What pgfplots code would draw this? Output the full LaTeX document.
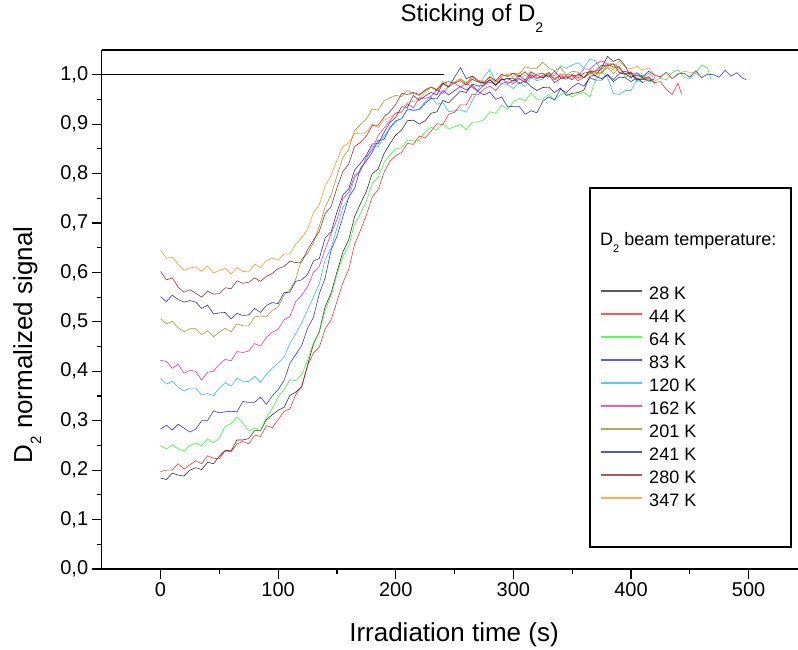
\documentclass[border=0pt]{standalone}
\usepackage{fontspec}
\setmainfont{Liberation Sans}
\usepackage{pgfplots}
\pgfplotsset{compat=1.18}
\definecolor{olivec}{RGB}{128,128,0}
\definecolor{navyc}{RGB}{0,0,128}
\definecolor{winec}{RGB}{128,0,0}
\definecolor{orangec}{RGB}{255,128,0}
\definecolor{greenc}{RGB}{0,255,0}
\begin{document}
\begin{tikzpicture}[x=1pt,y=1pt]
\useasboundingbox (0,0) rectangle (798,650);
\begin{axis}[
  at={(101.7pt,81pt)}, anchor=south west,
  scale only axis, width=696.3pt, height=519pt,
  xmin=-50, xmax=542, ymin=0, ymax=1.05,
  axis x line=box, axis y line=left,
  axis line style={-, line width=1.6pt, black},
  xtick={0,100,200,300,400,500}, minor x tick num=1,
  ytick={0,0.1,0.2,0.3,0.4,0.5,0.6,0.7,0.8,0.9,1.0}, minor y tick num=1,
  xtick pos=bottom, ytick pos=left,
  tick align=outside,
  major tick length=10pt, minor tick length=5pt,
  tick style={line width=1.2pt, black},
  /pgf/number format/assume math mode=true,
  tick label style={font=\fontsize{20}{24}\selectfont},
  yticklabel style={/pgf/number format/.cd, fixed, fixed zerofill, precision=1, use comma},
  xlabel={Irradiation time (s)},
  xlabel style={font=\fontsize{26}{30}\selectfont, at={(axis description cs:0.506,-0.140)}, anchor=base},
  ylabel={D\raisebox{-9pt}{\fontsize{15}{15}\selectfont 2} normalized signal},
  ylabel style={font=\fontsize{26}{30}\selectfont, at={(axis description cs:-0.1001,0.4316)}, anchor=base},
  title={Sticking of D\raisebox{-11pt}{\fontsize{14}{14}\selectfont 2}},
  title style={font=\fontsize{24}{28}\selectfont, at={(axis description cs:0.5318,1.0443)}, anchor=base},
  legend style={at={(axis description cs:0.7157,0.5445)}, anchor=north west, draw=none, fill=none,
    font=\fontsize{18}{18}\selectfont, inner sep=0pt, row sep=6pt, column sep=6pt,
    nodes={inner sep=0pt, text height=13pt, text depth=4pt}},
  legend cell align=left,
  legend image code/.code={\draw[#1, line width=2pt, opacity=0.65] (0pt,4.5pt) -- (41pt,4.5pt);},
  every axis plot/.append style={line width=0.6pt, opacity=0.8},
]
\addplot[black, line width=1.2pt, opacity=1, forget plot] coordinates {(-50,1) (241,1)};
% 28 K
\addplot[black] coordinates {(0,.184)(5,.181)(10,.194)(15,.190)(20,.188)(25,.200)(30,.205)(35,.201)(40,.216)(45,.213)(50,.228)(55,.240)(60,.239)(65,.261)(70,.261)(75,.264)(80,.280)(85,.280)(90,.302)(95,.312)(100,.321)(105,.327)(110,.351)(115,.358)(120,.368)(125,.412)(130,.455)(135,.480)(140,.531)(145,.558)(150,.601)(155,.641)(160,.666)(165,.713)(170,.739)(175,.764)(180,.800)(185,.809)(190,.840)(195,.860)(200,.878)(205,.888)(210,.907)(215,.908)(220,.900)(225,.907)(230,.922)(235,.925)(240,.948)(245,.943)(250,.955)(255,.967)(260,.964)(265,.981)(270,.977)(275,.978)(280,.990)(285,.979)(290,.990)(295,.992)(300,.993)(305,.982)(310,.988)(315,.976)(320,.968)(325,.974)(330,.975)(335,.964)(340,.973)(345,.958)(350,.962)(355,.964)(360,.969)(365,.997)(370,.999)(375,1.014)(380,1.037)(385,1.027)(390,1.032)(395,1.018)(400,.995)(405,.999)(410,.994)(415,.987)(420,.992)};
\addlegendentry{28 K}
% 44 K
\addplot[red] coordinates {(0,.197)(5,.200)(10,.200)(15,.213)(20,.202)(25,.211)(30,.219)(35,.213)(40,.229)(45,.224)(50,.223)(55,.239)(60,.237)(65,.253)(70,.258)(75,.253)(80,.271)(85,.268)(90,.290)(95,.286)(100,.302)(105,.319)(110,.324)(115,.353)(120,.370)(125,.411)(130,.437)(135,.449)(140,.486)(145,.504)(150,.541)(155,.579)(160,.606)(165,.657)(170,.685)(175,.716)(180,.753)(185,.767)(190,.802)(195,.825)(200,.836)(205,.843)(210,.861)(215,.859)(220,.876)(225,.872)(230,.886)(235,.901)(240,.899)(245,.920)(250,.924)(255,.939)(260,.939)(265,.961)(270,.959)(275,.971)(280,.977)(285,.968)(290,.982)(295,.986)(300,.982)(305,.992)(310,.984)(315,1.000)(320,.991)(325,.999)(330,1.004)(335,.990)(340,.997)(345,.995)(350,.998)(355,.988)(360,.995)(365,1.002)(370,1.007)(375,1.011)(380,1.021)(385,1.016)(390,1.014)(395,1.000)(400,1.005)(405,.990)(410,.991)(415,.996)(420,.984)(425,.986)(430,.970)(435,.960)(440,.983)(443,.960)};
\addlegendentry{44 K}
% 64 K
\addplot[greenc] coordinates {(0,.250)(5,.243)(10,.251)(15,.243)(20,.239)(25,.250)(30,.255)(35,.249)(40,.263)(45,.255)(50,.265)(55,.289)(60,.294)(65,.307)(70,.295)(75,.279)(80,.285)(85,.279)(90,.307)(95,.325)(100,.348)(105,.363)(110,.383)(115,.381)(120,.393)(125,.422)(130,.457)(135,.479)(140,.523)(145,.553)(150,.596)(155,.632)(160,.654)(165,.698)(170,.719)(175,.744)(180,.780)(185,.792)(190,.822)(195,.838)(200,.850)(205,.852)(210,.868)(215,.866)(220,.867)(225,.884)(230,.894)(235,.888)(240,.901)(245,.890)(250,.895)(255,.899)(260,.889)(265,.904)(270,.904)(275,.909)(280,.925)(285,.922)(290,.938)(295,.930)(300,.945)(305,.952)(310,.947)(315,.963)(320,.950)(325,.951)(330,.960)(335,.949)(340,.960)(345,.962)(350,.955)(355,.961)(360,.964)(365,.955)(370,.992)(375,1.004)(380,1.020)(385,1.014)(390,1.018)(395,.995)(400,1.003)(405,.985)(410,1.000)(415,.986)(420,.987)(425,.993)(430,.990)(435,1.004)(440,1.010)(445,.995)(450,.992)(455,1.003)(460,1.020)(465,1.013)(468,.990)};
\addlegendentry{64 K}
% 83 K
\addplot[blue] coordinates {(0,.283)(5,.291)(10,.281)(15,.293)(20,.285)(25,.277)(30,.283)(35,.300)(40,.300)(45,.320)(50,.316)(55,.318)(60,.319)(65,.318)(70,.339)(75,.337)(80,.337)(85,.348)(90,.333)(95,.350)(100,.363)(105,.381)(110,.416)(115,.434)(120,.452)(125,.487)(130,.509)(135,.557)(140,.589)(145,.645)(150,.673)(155,.712)(160,.752)(165,.770)(170,.811)(175,.825)(180,.843)(185,.867)(190,.869)(195,.893)(200,.907)(205,.911)(210,.931)(215,.928)(220,.929)(225,.942)(230,.952)(235,.951)(240,.968)(245,.959)(250,.968)(255,.976)(260,.969)(265,.978)(270,.966)(275,.959)(280,.965)(285,.950)(290,.955)(295,.935)(300,.936)(305,.936)(310,.920)(315,.927)(320,.923)(325,.946)(330,.955)(335,.949)(340,.971)(345,.964)(350,.975)(355,.983)(360,.977)(365,.994)(370,.989)(375,.989)(380,1.001)(385,.990)(390,1.002)(395,1.003)(400,.993)(405,1.004)(410,.996)(415,1.007)(420,.999)(425,.996)(430,1.005)(435,.992)(440,1.002)(445,1.003)(450,.995)(455,1.008)(460,.994)(465,1.001)(470,1.000)(475,.995)(480,1.009)(485,.997)(490,1.004)(495,.993)(498,.990)};
\addlegendentry{83 K}
% 120 K
\addplot[cyan] coordinates {(0,.386)(5,.374)(10,.380)(15,.368)(20,.360)(25,.366)(30,.366)(35,.352)(40,.355)(45,.351)(50,.366)(55,.377)(60,.370)(65,.386)(70,.380)(75,.379)(80,.390)(85,.378)(90,.394)(95,.406)(100,.417)(105,.428)(110,.456)(115,.476)(120,.498)(125,.524)(130,.550)(135,.577)(140,.626)(145,.649)(150,.690)(155,.731)(160,.751)(165,.791)(170,.807)(175,.828)(180,.855)(185,.854)(190,.876)(195,.891)(200,.905)(205,.911)(210,.929)(215,.928)(220,.930)(225,.946)(230,.955)(235,.940)(240,.944)(245,.925)(250,.927)(255,.929)(260,.924)(265,.947)(270,.969)(275,.996)(280,1.010)(285,.987)(290,.982)(295,.980)(300,.972)(305,.985)(310,.976)(315,.995)(320,.988)(325,.991)(330,1.005)(335,.997)(340,1.018)(345,1.013)(350,1.020)(355,1.024)(360,1.014)(365,1.032)(370,1.028)(375,1.006)(380,.995)(385,.962)(390,.960)(395,.968)(400,.968)(405,.989)(410,.984)(415,.991)(420,.990)};
\addlegendentry{120 K}
% 162 K
\addplot[magenta] coordinates {(0,.422)(5,.420)(10,.406)(15,.414)(20,.396)(25,.402)(30,.400)(35,.382)(40,.398)(45,.400)(50,.414)(55,.424)(60,.421)(65,.440)(70,.438)(75,.441)(80,.456)(85,.451)(90,.469)(95,.479)(100,.485)(105,.504)(110,.511)(115,.541)(120,.554)(125,.571)(130,.600)(135,.612)(140,.647)(145,.678)(150,.707)(155,.749)(160,.762)(165,.796)(170,.805)(175,.834)(180,.848)(185,.877)(190,.892)(195,.907)(200,.923)(205,.925)(210,.941)(215,.933)(220,.954)(225,.952)(230,.956)(235,.970)(240,.962)(245,.977)(250,.983)(255,.975)(260,.983)(265,.974)(270,.967)(275,.980)(280,.985)(285,.980)(290,.993)(295,.982)(300,.988)(305,.993)(310,.984)(315,1.000)(320,.994)(325,.994)(330,1.004)(335,.991)(340,1.000)(345,.999)(350,1.000)(355,.997)(360,1.012)(365,1.011)(370,1.022)(375,1.028)(380,1.022)(385,1.022)(390,1.015)(395,1.001)(400,1.006)(405,.990)(410,.992)(415,.995)(420,.982)};
\addlegendentry{162 K}
% 201 K
\addplot[olivec] coordinates {(0,.506)(5,.496)(10,.501)(15,.488)(20,.480)(25,.486)(30,.486)(35,.474)(40,.482)(45,.470)(50,.479)(55,.487)(60,.480)(65,.496)(70,.492)(75,.492)(80,.510)(85,.512)(90,.510)(95,.523)(100,.530)(105,.554)(110,.565)(115,.586)(120,.627)(125,.638)(130,.660)(135,.693)(140,.733)(145,.756)(150,.795)(155,.832)(160,.849)(165,.887)(170,.899)(175,.910)(180,.931)(185,.928)(190,.947)(195,.953)(200,.958)(205,.956)(210,.968)(215,.962)(220,.958)(225,.970)(230,.975)(235,.970)(240,.983)(245,.975)(250,.985)(255,.992)(260,.984)(265,.997)(270,.989)(275,.986)(280,.995)(285,.985)(290,.997)(295,1.001)(300,1.003)(305,1.001)(310,1.016)(315,1.013)(320,1.013)(325,1.025)(330,1.014)(335,1.008)(340,1.015)(345,.999)(350,1.007)(355,1.005)(360,.994)(365,1.010)(370,1.004)(375,1.004)(380,1.015)(385,1.002)(390,1.013)(395,1.000)(400,1.003)(405,1.003)(410,.992)(415,1.003)(420,.994)};
\addlegendentry{201 K}
% 241 K
\addplot[navyc] coordinates {(0,.551)(5,.541)(10,.554)(15,.545)(20,.540)(25,.543)(30,.540)(35,.527)(40,.534)(45,.516)(50,.518)(55,.519)(60,.506)(65,.517)(70,.513)(75,.514)(80,.527)(85,.519)(90,.533)(95,.539)(100,.537)(105,.559)(110,.560)(115,.582)(120,.585)(125,.596)(130,.623)(135,.628)(140,.670)(145,.682)(150,.722)(155,.756)(160,.769)(165,.807)(170,.821)(175,.837)(180,.860)(185,.860)(190,.883)(195,.903)(200,.914)(205,.935)(210,.934)(215,.958)(220,.948)(225,.957)(230,.964)(235,.959)(240,.982)(245,.975)(250,.995)(255,1.014)(260,.992)(265,.997)(270,.987)(275,.982)(280,.990)(285,.978)(290,.990)(295,.992)(300,.987)(305,.999)(310,.989)(315,1.005)(320,.999)(325,.994)(330,1.000)(335,.984)(340,.992)(345,.996)(350,.990)(355,1.002)(360,.994)(365,1.006)(370,.997)(375,.992)(380,1.000)(385,.986)(390,.995)(395,.994)(400,.986)(405,.994)(410,.984)};
\addlegendentry{241 K}
% 280 K
\addplot[winec] coordinates {(0,.602)(5,.585)(10,.589)(15,.570)(20,.560)(25,.565)(30,.558)(35,.550)(40,.562)(45,.556)(50,.557)(55,.569)(60,.567)(65,.583)(70,.578)(75,.580)(80,.589)(85,.582)(90,.592)(95,.598)(100,.608)(105,.612)(110,.623)(115,.620)(120,.621)(125,.646)(130,.665)(135,.683)(140,.719)(145,.733)(150,.771)(155,.804)(160,.819)(165,.855)(170,.863)(175,.876)(180,.897)(185,.898)(190,.914)(195,.925)(200,.940)(205,.962)(210,.960)(215,.964)(220,.960)(225,.968)(230,.975)(235,.968)(240,.982)(245,.986)(250,.983)(255,.988)(260,.979)(265,.991)(270,.985)(275,.984)(280,.996)(285,.988)(290,1.001)(295,.996)(300,1.003)(305,.996)(310,1.006)(315,.993)(320,1.001)(325,1.003)(330,.995)(335,1.007)(340,.994)(345,.991)(350,1.000)(355,.993)(360,1.003)(365,1.006)(370,1.008)(375,1.019)(380,1.018)(385,1.022)(390,1.004)(395,1.007)(400,1.002)(405,.990)(410,.990)(415,.992)};
\addlegendentry{280 K}
% 347 K
\addplot[orangec] coordinates {(0,.645)(5,.629)(10,.631)(15,.616)(20,.604)(25,.609)(30,.611)(35,.602)(40,.613)(45,.599)(50,.604)(55,.608)(60,.597)(65,.610)(70,.602)(75,.601)(80,.617)(85,.610)(90,.624)(95,.629)(100,.625)(105,.637)(110,.637)(115,.657)(120,.670)(125,.687)(130,.721)(135,.737)(140,.775)(145,.796)(150,.827)(155,.854)(160,.862)(165,.882)(170,.880)(175,.884)(180,.900)(185,.893)(190,.908)(195,.914)(200,.921)(205,.924)(210,.944)(215,.946)(220,.948)(225,.965)(230,.975)(235,.971)(240,.986)(245,.977)(250,.985)(255,.991)(260,.981)(265,.994)(270,.989)(275,.985)(280,.997)(285,.984)(290,.997)(295,.999)(300,.996)(305,1.004)(310,.997)(315,1.007)(320,.999)(325,.996)(330,1.005)(335,.992)(340,1.002)(345,.998)(350,.995)(355,.999)(360,.993)(365,1.003)(370,1.003)(375,1.002)(380,1.016)(385,1.010)(390,1.028)(395,1.015)(400,1.012)(405,1.017)(410,1.009)(415,1.014)(420,1.000)(425,.994)(430,1.005)(435,.992)(440,1.000)(445,1.007)(450,1.005)(455,1.003)(458,.998)};
\addlegendentry{347 K}
\end{axis}
\draw[line width=1.2pt] (590,103) rectangle (791,462);
\node[anchor=base west, inner sep=0pt, font=\fontsize{18}{18}\selectfont] at (600,404) {D\raisebox{-7pt}{\fontsize{11}{11}\selectfont 2} beam temperature:};
\end{tikzpicture}
\end{document}
